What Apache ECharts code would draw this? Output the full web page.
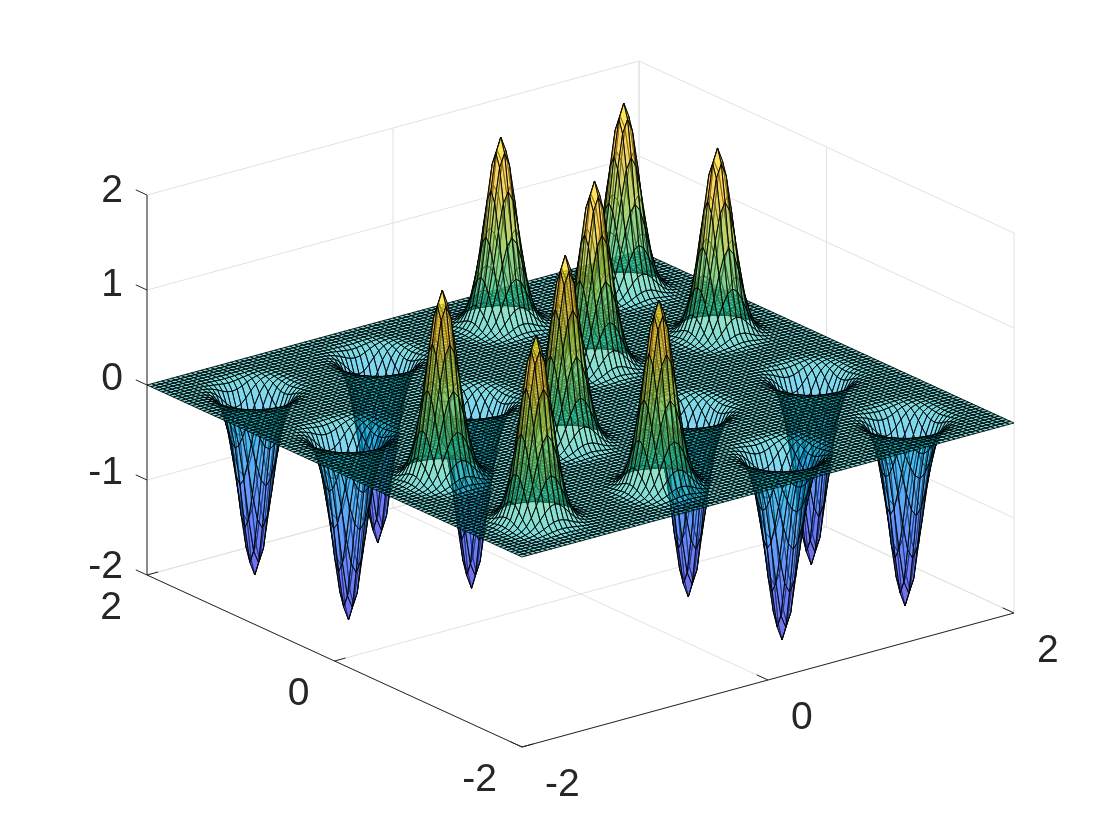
<!DOCTYPE html>
<html>
<head>
<meta charset="utf-8">
<style>html,body{margin:0;padding:0;background:#fff}#c{width:1120px;height:840px}</style>
<script src="https://cdn.jsdelivr.net/npm/echarts@6/dist/echarts.min.js"></script>
</head>
<body>
<div id="c"></div>
<script>
// ---- values ----
const xTicks = [-2, 0, 2];
const yTicks = [-2, 0, 2];
const zTicks = [-2, -1, 0, 1, 2];
const meshStep = 0.04;
const peakX = [1.48, 0.48, 1.48, 0.48, -0.52, -1.52, -0.52, -1.52, -1.52, -1.52, -0.52, -0.52, 0.48, 1.48, 0.48, 1.48];
const peakY = [1.48, 1.48, 0.48, 0.48, -0.52, -0.52, -1.52, -1.52, 1.48, 0.48, 1.48, 0.48, -0.52, -0.52, -1.52, -1.52];
const peakZ = [1.976, 1.971, 1.956, 1.961, 1.986, 1.971, 1.966, 1.951, -1.934, -1.954, -1.949, -1.974, -1.964, -1.979, -1.964, -1.959];
// relative height of a bump, by mesh-node offset from its summit (one quadrant)
const bumpRow0 = [1.000, .923, .726, .487, .278, .135, .056, .020, .006, .002];
const bumpRow1 = [.923, .852, .670, .449, .257, .125, .052, .018, .006, .001];
const bumpRow2 = [.726, .670, .527, .353, .202, .098, .041, .014, .004, .001];
const bumpRow3 = [.487, .449, .353, .237, .135, .066, .027, .010, .003, .001];
const bumpRow4 = [.278, .257, .202, .135, .077, .038, .016, .006, .002, 0];
const bumpRow5 = [.135, .125, .098, .066, .038, .018, .008, .003, .001, 0];
const bumpRow6 = [.056, .052, .041, .027, .016, .008, .003, .001, 0, 0];
const bumpRow7 = [.020, .018, .014, .010, .006, .003, .001, 0, 0, 0];
const bumpRow8 = [.006, .006, .004, .003, .002, .001, 0, 0, 0, 0];
const bumpRow9 = [.002, .001, .001, .001, 0, 0, 0, 0, 0, 0];
const bump = [bumpRow0, bumpRow1, bumpRow2, bumpRow3, bumpRow4, bumpRow5, bumpRow6, bumpRow7, bumpRow8, bumpRow9];
// colour map: height, colour
const mapZ = [-2, -1.2, -0.7, -0.2, 0, 0.2, 0.5, 1, 1.5, 2];
const mapC = [[70,55,225],[50,105,248],[40,150,240],[0,175,225],[0,185,185],[25,195,155],[75,195,115],[150,195,60],[250,195,45],[255,235,30]];
const faceAlpha = 0.5;

// ---- view: fixed oblique projection of the 3-D box onto the page ----
const origin = [580.5, 404];
const ex = [123, -33.5], ey = [-93.75, -43], ez = [0, -95];
function proj(x, y, z) {
  return [origin[0] + ex[0]*x + ey[0]*y + ez[0]*z, origin[1] + ex[1]*x + ey[1]*y + ez[1]*z];
}

// ---- height field ----
const N = Math.round(4 / meshStep) + 1;
const Z = [];
for (let i = 0; i < N; i++) { Z.push(new Array(N).fill(0)); }
peakX.forEach((px, p) => {
  const ci = Math.round((px + 2) / meshStep), cj = Math.round((peakY[p] + 2) / meshStep);
  for (let di = -9; di <= 9; di++) for (let dj = -9; dj <= 9; dj++) {
    Z[ci + di][cj + dj] += peakZ[p] * bump[Math.abs(di)][Math.abs(dj)];
  }
});
function colour(z) {
  let k = 0;
  while (k < mapZ.length - 2 && z > mapZ[k + 1]) k++;
  const t = Math.max(0, Math.min(1, (z - mapZ[k]) / (mapZ[k + 1] - mapZ[k])));
  const c = mapC[k].map((v, n) => Math.round(v + (mapC[k + 1][n] - v) * t));
  return 'rgba(' + c[0] + ',' + c[1] + ',' + c[2] + ',' + faceAlpha + ')';
}
// cells, far corner (x=2,y=2) first
const cells = [];
for (let i = N - 2; i >= 0; i--) for (let j = N - 2; j >= 0; j--) cells.push([i, j]);

// ---- box lines ----
const [xa, xb] = [xTicks[0], xTicks[xTicks.length - 1]];
const [ya, yb] = [yTicks[0], yTicks[yTicks.length - 1]];
const [za, zb] = [zTicks[0], zTicks[zTicks.length - 1]];
const greyLines = [];
xTicks.forEach(t => {
  greyLines.push([[t, ya, za], [t, yb, za]]);
  greyLines.push([[t, yb, za], [t, yb, zb]]);
});
yTicks.forEach(t => {
  greyLines.push([[xa, t, za], [xb, t, za]]);
  greyLines.push([[xb, t, za], [xb, t, zb]]);
});
zTicks.forEach(t => {
  greyLines.push([[xa, yb, t], [xb, yb, t]]);
  greyLines.push([[xb, yb, t], [xb, ya, t]]);
});
const blackLines = [
  [[xa, yb, za], [xa, yb, zb]],
  [[xa, yb, za], [xa, ya, za]],
  [[xa, ya, za], [xb, ya, za]]
];
xTicks.forEach(t => blackLines.push([[t, ya, za], [t, ya + 0.12, za]]));
yTicks.forEach(t => blackLines.push([[xa, t, za], [xa + 0.09, t, za]]));
zTicks.forEach(t => blackLines.push([[xa, yb, t], [xa, yb + 0.12, t]]));

const labels = [];
zTicks.forEach(t => labels.push({ p: [xa, yb, t], s: String(t), dx: -24, dy: -6 + t, align: 'right' }));
yTicks.forEach(t => labels.push({ p: [xa, t, za], s: String(t), dx: -25, dy: 33.5, align: 'right' }));
xTicks.forEach(t => labels.push({ p: [t, ya, za], s: String(t), dx: 23, dy: 38, align: 'left' }));

function lineItem(list, color, width) {
  return function (params, api) {
    const l = list[params.dataIndex];
    const a = api.coord(proj(l[0][0], l[0][1], l[0][2]));
    const b = api.coord(proj(l[1][0], l[1][1], l[1][2]));
    return { type: 'line', shape: { x1: a[0], y1: a[1], x2: b[0], y2: b[1] }, style: { stroke: color, lineWidth: width, fill: null } };
  };
}
function nodeCoord(api, i, j) {
  return api.coord(proj(-2 + i * meshStep, -2 + j * meshStep, Z[i][j]));
}

const chart = echarts.init(document.getElementById('c'), null, { renderer: 'canvas' });
chart.setOption({
  animation: false,
  backgroundColor: '#ffffff',
  tooltip: { show: false },
  grid: { left: 0, right: 0, top: 0, bottom: 0, containLabel: false },
  xAxis: { type: 'value', min: 0, max: 1120, show: false },
  yAxis: { type: 'value', min: 0, max: 840, inverse: true, show: false },
  series: [
    { type: 'custom', silent: true, clip: false, z: 1, coordinateSystem: 'cartesian2d',
      data: greyLines.map((l, n) => [n, 0]), renderItem: lineItem(greyLines, '#e2e2e2', 1) },
    { type: 'custom', silent: true, clip: false, z: 2, coordinateSystem: 'cartesian2d',
      data: blackLines.map((l, n) => [n, 0]), renderItem: lineItem(blackLines, '#262626', 1) },
    { type: 'custom', silent: true, clip: false, z: 3, coordinateSystem: 'cartesian2d', progressive: 0,
      data: cells,
      renderItem: function (params, api) {
        const c = cells[params.dataIndex], i = c[0], j = c[1];
        const zm = (Z[i][j] + Z[i + 1][j] + Z[i][j + 1] + Z[i + 1][j + 1]) / 4;
        return { type: 'polygon',
          shape: { points: [nodeCoord(api, i, j), nodeCoord(api, i + 1, j), nodeCoord(api, i + 1, j + 1), nodeCoord(api, i, j + 1)] },
          style: { fill: colour(zm), stroke: '#000000', lineWidth: 0.85 } };
      } },
    { type: 'custom', silent: true, clip: false, z: 4, coordinateSystem: 'cartesian2d',
      data: labels.map((l, n) => [n, 0]),
      renderItem: function (params, api) {
        const l = labels[params.dataIndex];
        const a = api.coord(proj(l.p[0], l.p[1], l.p[2]));
        return { type: 'text', style: { x: a[0] + l.dx, y: a[1] + l.dy, text: l.s, fill: '#262626',
          font: '39px "Liberation Sans", Arial, sans-serif', textAlign: l.align, textVerticalAlign: 'middle' } };
      } }
  ]
});
</script>
</body>
</html>
